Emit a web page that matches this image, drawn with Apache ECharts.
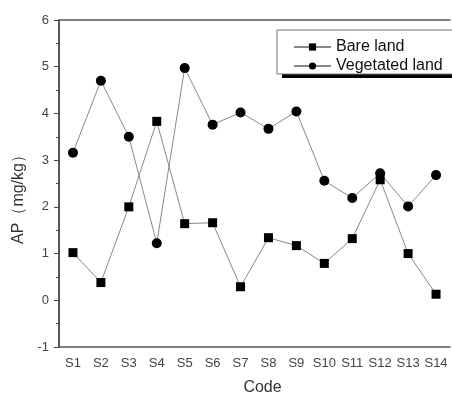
<!DOCTYPE html>
<html>
<head>
<meta charset="utf-8">
<script src="https://cdn.jsdelivr.net/npm/echarts@6/dist/echarts.min.js"></script>
<style>
  html, body { margin: 0; padding: 0; background: #fff; }
  #main { width: 452px; height: 394px; }
</style>
</head>
<body>
<div id="main"></div>
<script>
// 样点编号
const codes = ["S1", "S2", "S3", "S4", "S5", "S6", "S7", "S8", "S9", "S10", "S11", "S12", "S13", "S14"];
// 裸地 AP (mg/kg)
const bareLand = [1.02, 0.38, 2.0, 3.83, 1.64, 1.66, 0.29, 1.34, 1.17, 0.79, 1.32, 2.58, 1.0, 0.13];
// 植被覆盖地 AP (mg/kg)
const vegetatedLand = [3.16, 4.7, 3.5, 1.22, 4.97, 3.76, 4.02, 3.67, 4.04, 2.56, 2.19, 2.72, 2.01, 2.68];

const font = "'Liberation Sans', Arial, sans-serif";

const myChart = echarts.init(document.getElementById("main"), null, {
  renderer: "canvas",
});

myChart.setOption({
  animation: false,
  textStyle: { fontFamily: font },

  // 绘图区域（v6 默认会把标签收进容器，这里关掉）
  grid: { left: 59, top: 20, right: 2, bottom: 47, outerBoundsMode: "none", containLabel: false },

  // 图例的方框和阴影
  graphic: [
    {
      type: "rect",
      z: 0,
      shape: { x: 282, y: 34, width: 200, height: 44 },
      style: { fill: "#000" },
    },
    {
      type: "rect",
      z: 1,
      shape: { x: 277, y: 30, width: 200, height: 44 },
      style: { fill: "#fff", stroke: "#777", lineWidth: 1 },
    },
  ],

  legend: {
    orient: "vertical",
    left: 277,
    top: 35,
    z: 5,
    padding: [4, 10, 4, 16],
    itemWidth: 37,
    itemHeight: 9,
    itemGap: 3,
    textStyle: { fontSize: 16, color: "#111", fontFamily: font },
    data: ["Bare land", "Vegetated land"],
  },

  xAxis: [
    {
      type: "category",
      data: codes,
      boundaryGap: true,
      name: "Code",
      nameLocation: "middle",
      nameGap: 33,
      nameTextStyle: { fontSize: 16, color: "#333", padding: [0, 0, 0, 16] },
      axisLine: { onZero: false, lineStyle: { color: "#555", width: 1.5 } },
      axisTick: { alignWithLabel: true, length: 5, lineStyle: { color: "#444" } },
      axisLabel: { fontSize: 13, color: "#444", margin: 10, interval: 0 },
      splitLine: { show: false },
    },
    {
      // 刻度之间的小刻度
      type: "category",
      data: codes,
      position: "bottom",
      boundaryGap: true,
      axisLine: { show: false, onZero: false },
      axisTick: { alignWithLabel: false, length: 3, lineStyle: { color: "#444" } },
      axisLabel: { show: false },
      splitLine: { show: false },
    },
    {
      // 顶部边框
      type: "category",
      data: codes,
      position: "top",
      axisLine: { onZero: false, lineStyle: { color: "#555", width: 1.5 } },
      axisTick: { show: false },
      axisLabel: { show: false },
      splitLine: { show: false },
    },
  ],

  yAxis: {
    type: "value",
    min: -1,
    max: 6,
    interval: 1,
    name: "AP（mg/kg）",
    nameLocation: "middle",
    nameGap: 30,
    nameTextStyle: { fontSize: 16, color: "#333", padding: [0, 24, 0, 0] },
    axisLine: { show: true, onZero: false, lineStyle: { color: "#222", width: 1.5 } },
    axisTick: { show: true, length: 5, lineStyle: { color: "#444" } },
    minorTick: { show: true, splitNumber: 2, length: 3, lineStyle: { color: "#444" } },
    axisLabel: { fontSize: 13, color: "#444", margin: 10 },
    splitLine: { show: false },
  },

  series: [
    {
      name: "Bare land",
      type: "line",
      data: bareLand,
      symbol: "rect",
      symbolSize: 9,
      itemStyle: { color: "#000" },
      lineStyle: { color: "#888", width: 1 },
    },
    {
      name: "Vegetated land",
      type: "line",
      data: vegetatedLand,
      symbol: "circle",
      symbolSize: 10,
      itemStyle: { color: "#000" },
      lineStyle: { color: "#888", width: 1 },
    },
  ],
});
</script>
</body>
</html>
